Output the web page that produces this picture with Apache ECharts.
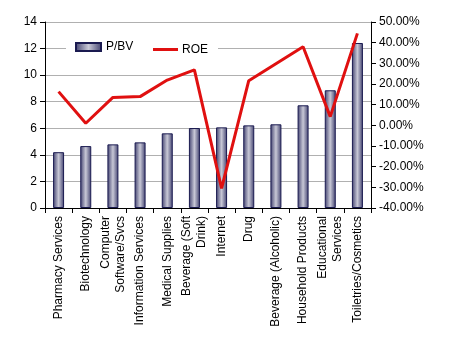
<!DOCTYPE html>
<html><head><meta charset="utf-8">
<script src="https://cdn.jsdelivr.net/npm/echarts@6/dist/echarts.min.js"></script>
<style>html,body{margin:0;padding:0;background:#fff}#c{width:476px;height:337px}</style>
</head><body><div id="c"></div>
<script>
var categories = ['Pharmacy Services','Biotechnology','Computer\nSoftware/Svcs','Information Services','Medical Supplies','Beverage (Soft\nDrink)','Internet','Drug','Beverage (Alcoholic)','Household Products','Educational\nServices','Toiletries/Cosmetics'];
var pbv = [4.2, 4.66, 4.79, 4.94, 5.62, 6.02, 6.07, 6.22, 6.3, 7.73, 8.86, 12.42];
var roe = [16.3, 1.0, 13.5, 13.9, 21.9, 26.8, -30.5, 21.6, 29.8, 38.0, 4.2, 44.5];
var leftTicks = [0,2,4,6,8,10,12,14];
var rightTicks = [-40,-30,-20,-10,0,10,20,30,40,50];

var chart = echarts.init(document.getElementById('c'));
var font = 'Liberation Sans, Arial, sans-serif';
chart.setOption({
  animation: false,
  graphic: [{type: 'rect', left: 66, top: 38, shape: {width: 152, height: 17}, style: {fill: '#fff'}, z: 5}],
  legend: [{
    top: 41, left: 75, itemWidth: 25, itemHeight: 8, padding: 0, z: 10,
    textStyle: {fontFamily: font, fontSize: 12, color: '#000'},
    data: [{name: 'P/BV', icon: 'rect'}]
  }, {
    top: 43.5, left: 153, itemWidth: 25, itemHeight: 3, padding: 0, z: 10,
    textStyle: {fontFamily: font, fontSize: 12, color: '#000', padding: [0,0,0,-1]},
    data: [{name: 'ROE', icon: 'rect'}]
  }],
  grid: {left: 45, right: 105, top: 22, bottom: 129},
  xAxis: {
    type: 'category', data: categories,
    axisLine: {lineStyle: {color: '#000'}},
    axisTick: {show: true, alignWithLabel: false, length: 5, lineStyle: {color: '#000'}},
    axisLabel: {rotate: 90, interval: 0, fontFamily: font, fontSize: 12, color: '#000', lineHeight: 15, margin: 8}
  },
  yAxis: [{
    type: 'value', min: 0, max: 14, interval: 2,
    axisLine: {show: true, lineStyle: {color: '#000'}},
    axisTick: {show: true, length: 5, lineStyle: {color: '#000'}},
    axisLabel: {fontFamily: font, fontSize: 12, color: '#000', margin: 8},
    splitLine: {lineStyle: {color: '#b0b0b0'}}
  }, {
    type: 'value', min: -40, max: 50, interval: 10,
    axisLine: {show: true, lineStyle: {color: '#000'}},
    axisTick: {show: true, length: 5, lineStyle: {color: '#000'}},
    axisLabel: {fontFamily: font, fontSize: 12, color: '#000', margin: 8,
      formatter: function(v){ return v.toFixed(2) + '%'; }},
    splitLine: {show: false}
  }],
  series: [{
    name: 'P/BV', type: 'bar', data: pbv, barWidth: 11, yAxisIndex: 0,
    itemStyle: {
      borderColor: '#1a1a50', borderWidth: 1,
      color: new echarts.graphic.LinearGradient(0, 0, 1, 0, [
        {offset: 0, color: '#40406e'},
        {offset: 0.5, color: '#c8c8d6'},
        {offset: 1, color: '#40406e'}
      ])
    }
  }, {
    name: 'ROE', type: 'line', data: roe, yAxisIndex: 1,
    symbol: 'none', lineStyle: {color: '#e01010', width: 3},
    itemStyle: {color: '#e01010'}
  }]
});
</script></body></html>
